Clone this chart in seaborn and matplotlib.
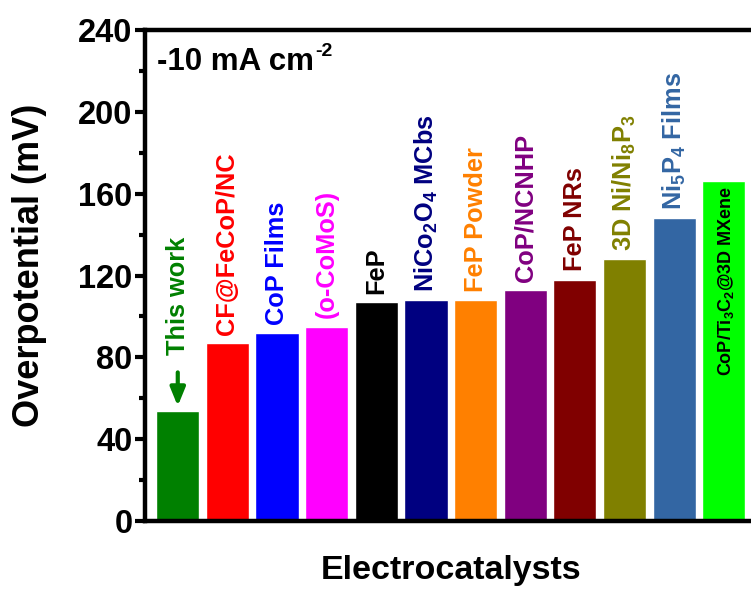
import matplotlib
matplotlib.use("Agg")
import matplotlib.pyplot as plt
import seaborn as sns
import numpy as np

# Overpotential at -10 mA cm^-2 for each electrocatalyst
catalysts = ["This work", "CF@FeCoP/NC", "CoP Films", "(o-CoMoS)", "FeP",
             "NiCo2O4 MCbs", "FeP Powder", "CoP/NCNHP", "FeP NRs",
             "3D Ni/Ni8P3", "Ni5P4 Films", "CoP/Ti3C2@3D MXene"]
bar_labels = ["This work", "CF@FeCoP/NC", "CoP Films", "(o-CoMoS)", "FeP",
              r"NiCo$_2$O$_4$ MCbs", "FeP Powder", "CoP/NCNHP", "FeP NRs",
              r"3D Ni/Ni$_8$P$_3$", r"Ni$_5$P$_4$ Films",
              r"CoP/Ti$_3$C$_2$@3D MXene"]
overpotential = [54, 87, 92, 95, 107, 108, 108, 113, 118, 128, 148, 166]
bar_colors = ["#008000", "#FF0000", "#0000FF", "#FF00FF", "#000000",
              "#000080", "#FF8000", "#800080", "#800000", "#808000",
              "#3366A3", "#00FF00"]
y_ticks = [0, 40, 80, 120, 160, 200, 240]

sns.set_style("ticks")
plt.rcParams["font.family"] = ["Liberation Sans", "DejaVu Sans"]
plt.rcParams["font.weight"] = "bold"
plt.rcParams["text.color"] = "black"
plt.rcParams["axes.labelcolor"] = "black"
plt.rcParams["ytick.color"] = "black"
plt.rcParams["xtick.color"] = "black"
plt.rcParams["mathtext.fontset"] = "custom"
plt.rcParams["mathtext.rm"] = "Liberation Sans:bold"
plt.rcParams["mathtext.it"] = "Liberation Sans:bold"
plt.rcParams["mathtext.bf"] = "Liberation Sans:bold"
plt.rcParams["mathtext.sf"] = "Liberation Sans:bold"

W, H = 751, 590
fig = plt.figure(figsize=(W / 100, H / 100), dpi=100)
ax = fig.add_axes([145 / W, (H - 521) / H, 620 / W, 491 / H])

sns.barplot(x=catalysts, y=overpotential, hue=catalysts, palette=bar_colors,
            legend=False, width=0.87, saturation=1, ax=ax, order=catalysts,
            hue_order=catalysts)

ax.set_xlim(-0.66, 11.83)
ax.set_ylim(0, 240)
ax.set_yticks(y_ticks)
ax.set_yticklabels([str(t) for t in y_ticks], fontsize=23.5, fontweight="bold")
ax.set_yticks(np.arange(20, 240, 40), minor=True)
ax.set_xticks([])
ax.tick_params(axis="y", which="major", direction="out", length=7, width=3,
               pad=2, colors="black")
ax.tick_params(axis="y", which="minor", direction="out", length=4, width=3,
               colors="black")
for side in ["left", "bottom", "top"]:
    ax.spines[side].set_linewidth(3.2)
    ax.spines[side].set_color("black")
ax.spines["right"].set_visible(False)

ax.set_ylabel("")
ax.set_xlabel("")
fig.text(30 / W, 1 - 265 / H, "Overpotential (mV)", rotation=90, fontsize=26,
         fontweight="bold", ha="center", va="center")
fig.text(451 / W, 1 - 570 / H, "Electrocatalysts", fontsize=24.5,
         fontweight="bold", ha="center", va="center")

# Current density note with a hyphen-style superscript
cd = ax.text(0.019, 0.9185, "-10 mA cm", transform=ax.transAxes,
             fontsize=22.5, fontweight="bold", ha="left", va="baseline")
fig.canvas.draw()
bb = cd.get_window_extent(renderer=fig.canvas.get_renderer())
fig.text((bb.x1 + 1) / W, (bb.y1 + 4) / H, "-2", fontsize=14,
         fontweight="bold", ha="left", va="top")

# Rotated labels above each bar
for i, (lab, v, c) in enumerate(zip(bar_labels, overpotential, bar_colors)):
    if i == 0:
        ax.annotate("", xy=(i, v + 0.8), xytext=(i, v + 20),
                    arrowprops=dict(arrowstyle="-|>,head_width=0.45,head_length=1.1",
                                    color=c, lw=3))
        ax.text(i, v + 27, lab, rotation=90, color=c, fontsize=18.3,
                fontweight="bold", ha="center", va="bottom")
    elif i == len(bar_labels) - 1:
        ax.text(i + 0.05, 71, lab, rotation=90, color="black", fontsize=13,
                fontweight="bold", ha="center", va="bottom")
    else:
        ax.text(i, v + 4, lab, rotation=90, color=c, fontsize=18.3,
                fontweight="bold", ha="center", va="bottom")

fig.savefig("out.png", dpi=100)
